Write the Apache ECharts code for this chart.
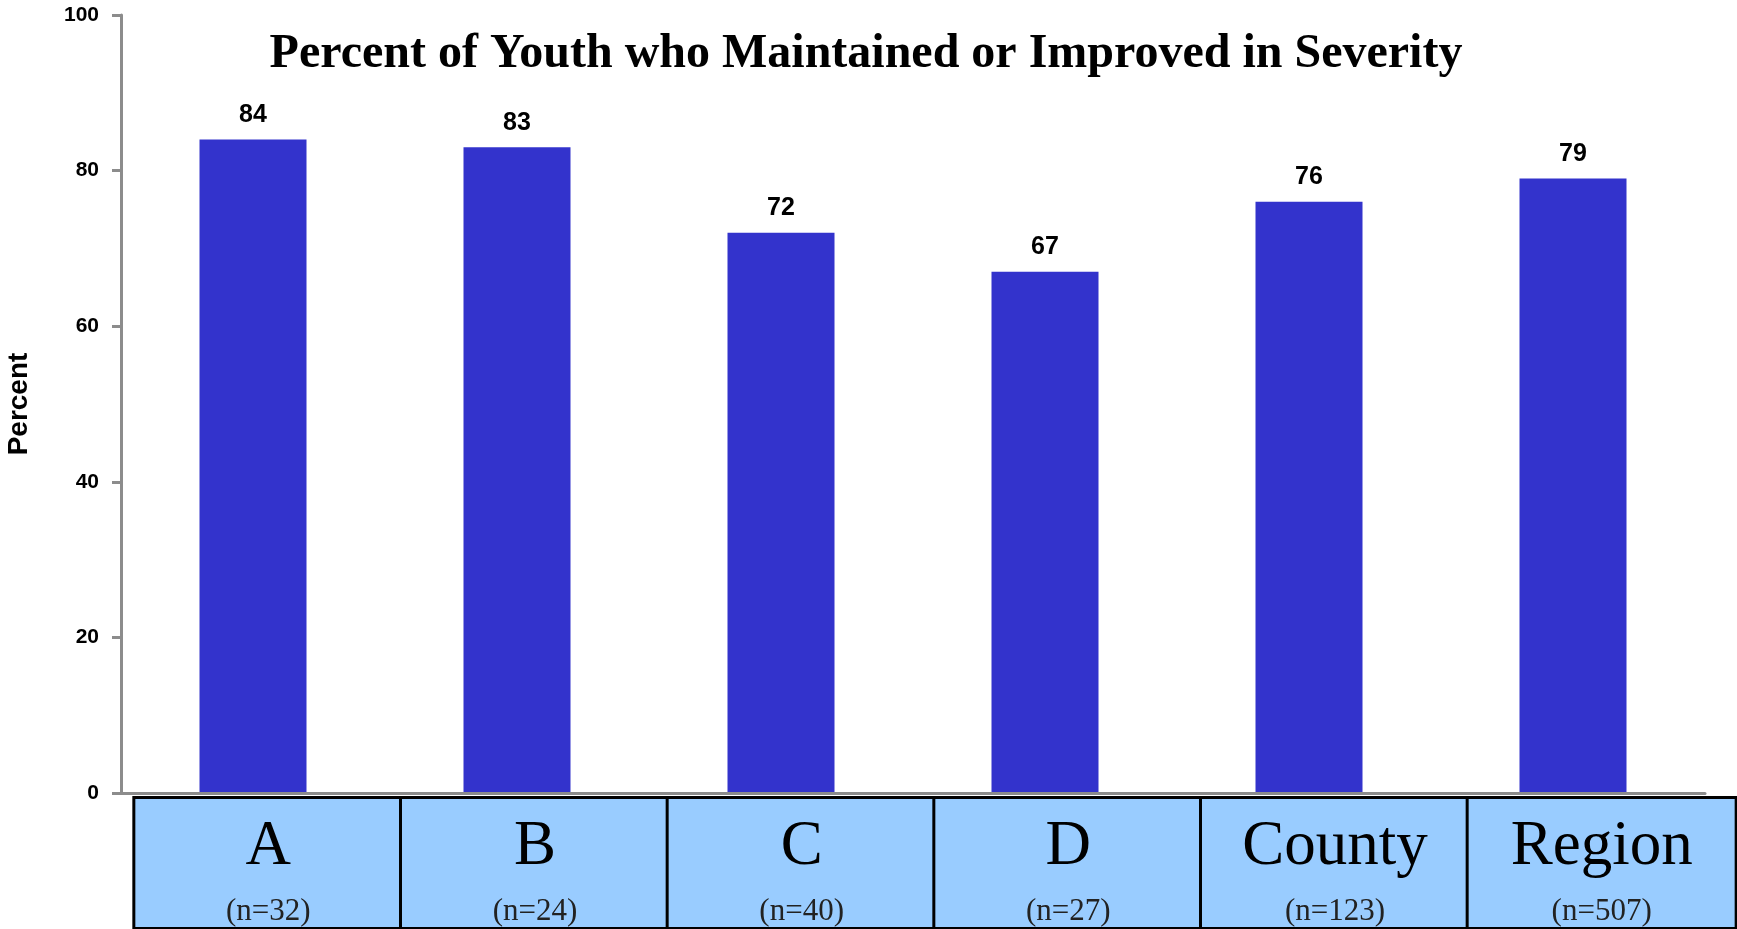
<!DOCTYPE html>
<html>
<head>
<meta charset="utf-8">
<script src="https://cdn.jsdelivr.net/npm/echarts@6/dist/echarts.min.js"></script>
<style>
  html, body { margin: 0; padding: 0; background: #fff; }
  #chart { width: 1737px; height: 929px; }
</style>
</head>
<body>
<div id="chart"></div>
<script>
// data
var categories = ["A", "B", "C", "D", "County", "Region"];
var sampleSizes = ["(n=32)", "(n=24)", "(n=40)", "(n=27)", "(n=123)", "(n=507)"];
var percentValues = [84, 83, 72, 67, 76, 79];
var yTicks = [0, 20, 40, 60, 80, 100];

var myChart = echarts.init(document.getElementById("chart"));

var option = {
  backgroundColor: "#ffffff",
  title: {
    text: "Percent of Youth who Maintained or Improved in Severity",
    left: 861,
    textAlign: "center",
    top: 26,
    textStyle: {
      fontFamily: "Liberation Serif",
      fontWeight: "bold",
      fontSize: 48,
      color: "#000",
    },
  },
  grid: [
    // plot area
    { left: 121, right: 32, top: 15, bottom: 136, outerBoundsMode: "none", containLabel: false },
    // the row of blue label boxes is a bit wider than the plot
    { left: 135, right: 2, top: 15, bottom: 136, outerBoundsMode: "none", containLabel: false },
  ],
  xAxis: [
    {
      type: "category",
      gridIndex: 0,
      data: categories,
      axisLine: { lineStyle: { color: "#8c8c8c", width: 3 } },
      axisTick: { show: false },
      axisLabel: { show: false },
      z: 3,
    },
    {
      type: "category",
      gridIndex: 1,
      data: categories,
      axisLine: { show: false },
      axisTick: { show: false },
      axisLabel: {
        interval: 0,
        margin: 6,
        width: 266,
        backgroundColor: "#99ccff",
        borderColor: "#000",
        borderWidth: 3,
        padding: 0,
        // each box: big name on top, sample size under it
        formatter: function (value, idx) {
          return "{big|" + value + "}\n{small|" + sampleSizes[idx] + "}";
        },
        rich: {
          big: {
            fontFamily: "Liberation Serif",
            fontSize: 63,
            lineHeight: 97,
            color: "#000",
            align: "center",
            width: 266,
          },
          small: {
            fontFamily: "Liberation Serif",
            fontSize: 31,
            lineHeight: 31,
            color: "#222",
            align: "center",
            width: 266,
          },
        },
      },
    },
  ],
  yAxis: [
    {
      type: "value",
      gridIndex: 0,
      min: yTicks[0],
      max: yTicks[yTicks.length - 1],
      interval: 20,
      name: "Percent",
      nameLocation: "middle",
      nameRotate: 90,
      nameGap: 88,
      nameTextStyle: {
        fontFamily: "Liberation Sans",
        fontWeight: "bold",
        fontSize: 28,
        color: "#000",
      },
      axisLine: { show: true, lineStyle: { color: "#8c8c8c", width: 3 } },
      axisTick: { show: true, length: 9, lineStyle: { color: "#8c8c8c", width: 3 } },
      axisLabel: {
        margin: 22,
        fontFamily: "Liberation Sans",
        fontWeight: "bold",
        fontSize: 21,
        color: "#000",
      },
      splitLine: { show: false },
    },
    {
      type: "value",
      gridIndex: 1,
      show: false,
    },
  ],
  series: [
    {
      type: "bar",
      xAxisIndex: 0,
      yAxisIndex: 0,
      data: percentValues,
      barWidth: 107,
      itemStyle: { color: "#3333cc" },
      label: {
        show: true,
        position: "top",
        distance: 12,
        fontFamily: "Liberation Sans",
        fontWeight: "bold",
        fontSize: 25,
        color: "#000",
      },
    },
  ],
};

myChart.setOption(option);
window.addEventListener("resize", function () {
  myChart.resize();
});
</script>
</body>
</html>
